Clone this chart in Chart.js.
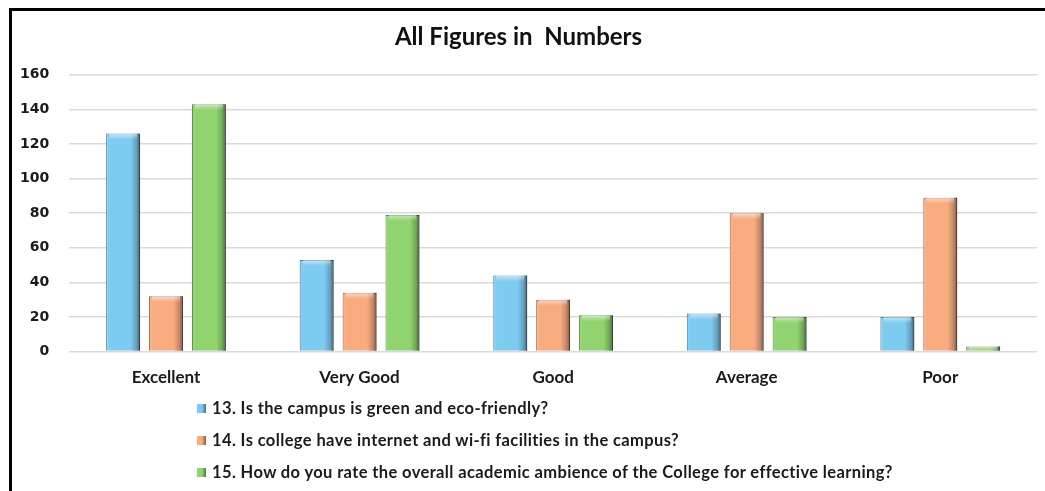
<!DOCTYPE html>
<html>
<head>
<meta charset="utf-8">
<script src="https://cdn.jsdelivr.net/npm/chart.js@4"></script>
<style>
  body { margin: 0; background: #fff; }
  #wrap { position: relative; width: 1045px; height: 491px; overflow: hidden; }
  #frame { position: absolute; left: 9px; top: 8px; right: -10px; bottom: -10px;
           border-left: 3px solid #000; border-top: 3px solid #000; pointer-events: none; }
  #box { position: absolute; left: 0; top: 0; width: 1045px; height: 412px; }
  #legend { position: absolute; left: 197px; top: 392px; font: bold 16.5px Lato, sans-serif;
            letter-spacing: 0.38px; color: #1a1a1a; }
  #legend div { height: 32px; line-height: 32px; display: flex; align-items: center; white-space: nowrap; }
  #legend span.sw { display: inline-block; width: 9px; height: 9px; margin-right: 6px; }
</style>
</head>
<body>
<div id="wrap">
  <div id="box"><canvas id="chart"></canvas></div>
  <div id="legend"></div>
  <div id="frame"></div>
</div>
<script>
// categories and series
const categories = ['Excellent', 'Very Good', 'Good', 'Average', 'Poor'];
const seriesNames = [
  '13.  Is the campus is green and eco-friendly?',
  '14. Is college have internet and wi-fi facilities in the campus?',
  '15.  How do you rate the overall academic ambience of the College for effective learning?'
];
const q13 = [126, 53, 44, 22, 20];
const q14 = [32, 34, 30, 80, 89];
const q15 = [143, 79, 21, 20, 3];
const yTicks = [0, 20, 40, 60, 80, 100, 120, 140, 160];

const fills   = ['#7ecbf1', '#f9ab80', '#8fd46e'];
const edges   = ['#3f6f86', '#8a5a3d', '#4f7a3a'];

// fake 3D bevel on each bar, drawn over the library's bar elements
const bevel = {
  id: 'bevel',
  afterDatasetsDraw(chart) {
    const c = chart.ctx;
    chart.data.datasets.forEach((ds, i) => {
      chart.getDatasetMeta(i).data.forEach(bar => {
        const l = bar.x - bar.width / 2, w = bar.width;
        const top = Math.min(bar.y, bar.base), h = Math.abs(bar.base - bar.y);
        if (h < 1) return;
        c.save();
        const g = c.createLinearGradient(l, 0, l + w, 0);
        g.addColorStop(0, 'rgba(255,255,255,0.10)');
        g.addColorStop(0.12, 'rgba(255,255,255,0.0)');
        g.addColorStop(0.72, 'rgba(0,0,0,0.0)');
        g.addColorStop(0.9, 'rgba(0,0,0,0.22)');
        g.addColorStop(1, 'rgba(0,0,0,0.5)');
        c.fillStyle = g;
        c.fillRect(l, top, w, h);
        const bh = Math.min(6, h);
        const t = c.createLinearGradient(0, top, 0, top + bh);
        t.addColorStop(0, 'rgba(255,255,255,0.55)');
        t.addColorStop(1, 'rgba(255,255,255,0.0)');
        c.fillStyle = t;
        c.fillRect(l + 3, top, w - 6, bh);
        c.restore();
      });
    });
  }
};

const chart = new Chart(document.getElementById('chart'), {
  type: 'bar',
  data: {
    labels: categories,
    datasets: [q13, q14, q15].map((d, i) => ({
      label: seriesNames[i],
      data: d,
      backgroundColor: fills[i],
      borderColor: edges[i],
      borderWidth: 1,
      categoryPercentage: 0.665,
      barPercentage: 0.79
    }))
  },
  options: {
    responsive: true,
    maintainAspectRatio: false,
    animation: false,
    layout: { padding: { left: 0, right: 8, top: 0, bottom: 8 } },
    plugins: {
      legend: { display: false },
      tooltip: { enabled: false },
      title: {
        display: true,
        text: 'All Figures in  Numbers',
        color: '#111',
        font: { family: 'Lato', size: 24, weight: 'bold', lineHeight: 1.2 },
        padding: { top: 23, bottom: 23 }
      }
    },
    scales: {
      y: {
        min: 0,
        max: 160,
        afterBuildTicks: axis => { axis.ticks = yTicks.map(v => ({ value: v })); },
        border: { display: false },
        grid: { color: '#d9d9d9', lineWidth: 1.5, drawTicks: false },
        ticks: { color: '#1a1a1a', padding: 20, font: { family: 'DejaVu Sans', size: 14, weight: 'bold' } }
      },
      x: {
        border: { display: false },
        grid: { display: false, drawTicks: false },
        ticks: { color: '#1a1a1a', padding: 16, font: { family: 'Lato', size: 17, weight: 'bold' } }
      }
    }
  },
  plugins: [bevel]
});

// legend as left-aligned rows, built from the chart's datasets
const legend = document.getElementById('legend');
chart.data.datasets.forEach((ds, i) => {
  const row = document.createElement('div');
  const sw = document.createElement('span');
  sw.className = 'sw';
  sw.style.background = 'linear-gradient(90deg,' + fills[i] + ' 55%,' + edges[i] + ')';
  row.appendChild(sw);
  row.appendChild(document.createTextNode(ds.label));
  legend.appendChild(row);
});
</script>
</body>
</html>
